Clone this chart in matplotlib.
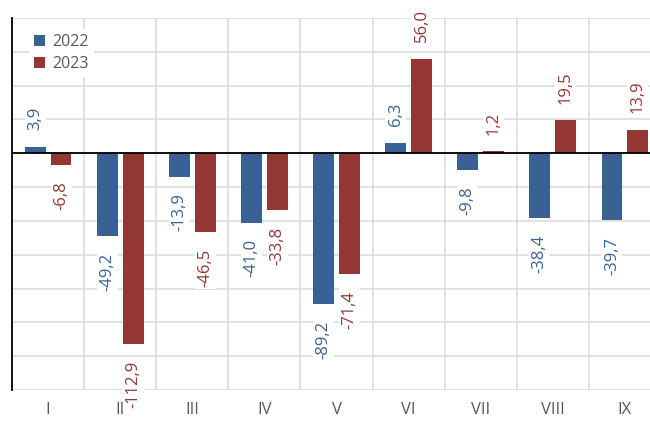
import matplotlib
matplotlib.use("Agg")
import matplotlib.pyplot as plt
import numpy as np

categories = ["I", "II", "III", "IV", "V", "VI", "VII", "VIII", "IX"]
values_2022 = [3.9, -49.2, -13.9, -41.0, -89.2, 6.3, -9.8, -38.4, -39.7]
values_2023 = [-6.8, -112.9, -46.5, -33.8, -71.4, 56.0, 1.2, 19.5, 13.9]
series_names = ["2022", "2023"]

blue = "#3A6194"
red = "#943634"
grid_c = "#D9D9D9"
text_c = "#595959"

plt.rcParams['font.family'] = ['Open Sans', 'DejaVu Sans']

fig = plt.figure(figsize=(6.5, 4.21), dpi=100)
ax = fig.add_axes([12/650, 1-390/421, 649/650, 372/421])

x = np.arange(len(categories))
w = 0.29
off = 0.18
b1 = ax.bar(x - off, values_2022, w, color=blue, label=series_names[0], zorder=3)
b2 = ax.bar(x + off, values_2023, w, color=red, label=series_names[1], zorder=3)

ax.set_xlim(-0.5, len(categories) - 0.5)
ax.set_ylim(-140, 80)
ax.set_yticks(np.arange(-140, 81, 20))
ax.set_yticklabels([])
ax.tick_params(axis='y', length=0)
ax.set_xticks(x)
ax.set_xticklabels(categories, color=text_c, fontsize=12)
ax.tick_params(axis='x', length=0, pad=9)
ax.set_xticks(np.arange(-0.5, len(categories), 1), minor=True)
ax.tick_params(axis='x', which='minor', length=0)

ax.grid(axis='y', which='major', color=grid_c, lw=1.1, zorder=0)
ax.grid(axis='x', which='minor', color=grid_c, lw=1.1, zorder=0)
ax.grid(axis='x', which='major', visible=False)

for s in ['top', 'right', 'bottom']:
    ax.spines[s].set_visible(False)
ax.spines['left'].set_color('black')
ax.spines['left'].set_linewidth(1.3)
ax.spines['left'].set_zorder(5)
ax.axhline(0, color='black', lw=1.3, zorder=4)

def fmt(v):
    return f"{v:.1f}".replace(".", ",")

for bars, vals, col in ((b1, values_2022, blue), (b2, values_2023, red)):
    for rect, v in zip(bars, vals):
        cx = rect.get_x() + rect.get_width() / 2
        dy = 12 if v >= 0 else -12
        ax.annotate(fmt(v), (cx, v), xytext=(0, dy), textcoords='offset points',
                    rotation=90, ha='center', va='bottom' if v >= 0 else 'top',
                    color=col, fontsize=12, annotation_clip=False, zorder=6,
                    bbox=dict(boxstyle='square,pad=0.15', fc='white', ec='none'))

leg = ax.legend(loc='upper left', bbox_to_anchor=(0.014, 0.992), frameon=True,
                fontsize=11.5, handlelength=0.7, handleheight=0.7, handletextpad=0.45,
                labelspacing=0.4, borderpad=0.3)
leg.get_frame().set_facecolor('white')
leg.get_frame().set_edgecolor('none')
leg.get_frame().set_alpha(1)
for t in leg.get_texts():
    t.set_color(text_c)

fig.savefig("out.png", dpi=100)
